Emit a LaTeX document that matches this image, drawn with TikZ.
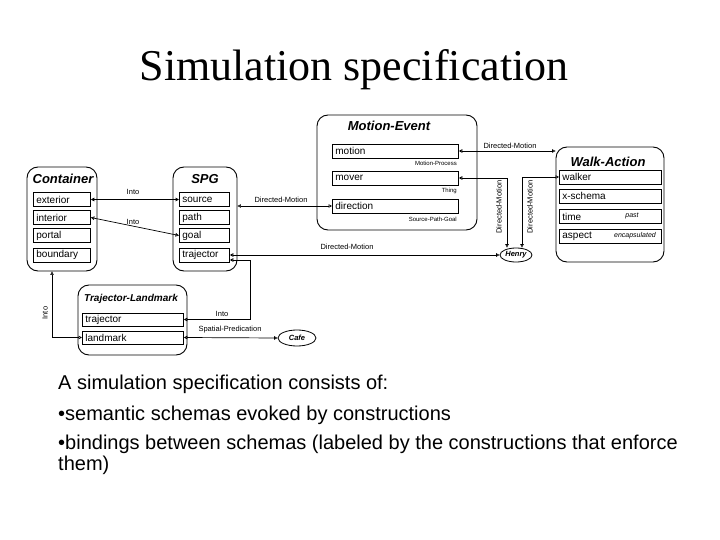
\documentclass[tikz,border=0pt]{standalone}
\usepackage{fontspec}
\setmainfont{Liberation Serif}
\setsansfont{Liberation Sans}
\usetikzlibrary{arrows.meta,shapes.geometric,calc}
\begin{document}
\begin{tikzpicture}[x=1pt,y=-1pt,
  >={Triangle[open,length=3.5pt,width=3.5pt]},
  frame/.style={draw, line width=0.9pt, rounded corners=11pt, inner sep=0pt},
  ftitle/.style={font=\sffamily\bfseries\itshape\fontsize{13}{13}\selectfont, inner sep=0pt},
  slot/.style={draw, line width=0.8pt, inner ysep=0pt, inner xsep=3pt, minimum height=14pt,
    font=\sffamily\fontsize{10}{10}\selectfont, anchor=west, align=left, text width=#1pt, fill=white},
  small/.style={font=\sffamily\fontsize{6}{6}\selectfont, inner sep=0pt},
  lab/.style={font=\sffamily\fontsize{7.5}{7.5}\selectfont, inner sep=0pt},
  conn/.style={<->, line width=0.7pt},
  filler/.style={draw, line width=0.8pt, ellipse, inner sep=0pt, font=\sffamily\bfseries\itshape\fontsize{7.5}{7.5}\selectfont},
  body/.style={font=\sffamily\fontsize{20}{20}\selectfont, anchor=base west, inner sep=0pt}
]
\useasboundingbox (0,0) rectangle (720,540);

% title
\node[font=\fontsize{44}{44}\selectfont, anchor=base, inner sep=0pt] (title) at (354,81) {Simulation specification};

% frames
\node[frame, minimum width=70pt, minimum height=104pt] (Container) at (62,219) {};
\node[frame, minimum width=64pt, minimum height=104pt] (SPG) at (205,219) {};
\node[frame, minimum width=160pt, minimum height=115pt] (ME) at (397,172.5) {};
\node[frame, minimum width=108pt, minimum height=115pt] (WA) at (610,204.5) {};
\node[frame, minimum width=109pt, minimum height=70pt] (TL) at (132.5,320) {};

\node[ftitle] (tC) at (63,179) {Container};
\node[ftitle] (tS) at (205,179) {SPG};
\node[ftitle] (tM) at (389,126) {Motion-Event};
\node[ftitle] (tW) at (608,162) {Walk-Action};
\node[ftitle, font=\sffamily\bfseries\itshape\fontsize{10}{10}\selectfont] (tT) at (131,299) {Trajector-Landmark};

% Container slots
\node[slot=51] (exterior) at (33,199.5) {exterior};
\node[slot=51] (interior) at (33,217.5) {interior};
\node[slot=51] (portal) at (33,235.5) {portal};
\node[slot=51] (boundary) at (33,255) {boundary};
% SPG slots
\node[slot=44] (source) at (179,199.5) {source};
\node[slot=44] (path) at (179,217.5) {path};
\node[slot=44] (goal) at (179,235.5) {goal};
\node[slot=44] (trajectory) at (179,255) {trajector};
% Motion-Event slots
\node[slot=120] (motion) at (332,151) {motion};
\node[slot=120] (mover) at (332,178) {mover};
\node[slot=120] (direction) at (332,206) {direction};
\node[small, anchor=east] (mp) at (457,163) {Motion-Process};
\node[small, anchor=east] (th) at (457,191) {Thing};
\node[small, anchor=east] (spg) at (457,219) {Source-Path-Goal};
% Walk-Action slots
\node[slot=96] (walker) at (559,177) {walker};
\node[slot=96] (xschema) at (559,196) {x-schema};
\node[slot=96] (time) at (559,216.5) {time};
\node[slot=96] (aspect) at (559,236) {aspect};
\node[small, font=\sffamily\itshape\fontsize{7}{7}\selectfont] (past) at (632,216) {past};
\node[small, font=\sffamily\itshape\fontsize{7}{7}\selectfont, anchor=east] (encap) at (656,236) {encapsulated};
% Trajector-Landmark slots
\node[slot=95, minimum height=13pt] (trajector) at (82,319.5) {trajector};
\node[slot=95, minimum height=13pt] (landmark) at (82,337.5) {landmark};

% fillers
\node[filler, minimum width=32pt, minimum height=14pt] (Henry) at (516,255) {Henry};
\node[filler, minimum width=38pt, minimum height=16pt] (Cafe) at (297,338) {Cafe};

% connectors
\draw[conn, line width=1.8pt] (exterior.east) -- (source.west);
\node[lab] (l1) at (133,192) {Into};
\draw[conn] (interior.east) -- (goal.west);
\node[lab] (l2) at (133,222) {Into};
\draw[conn] (direction.west -| SPG.east) -- (direction.west);
\node[lab] (l3) at (281,200) {Directed-Motion};
\draw[conn] (Henry.west -| trajectory.east) -- (Henry.west);
\node[lab] (l4) at (347,247) {Directed-Motion};
\draw[conn] ([yshift=-5pt]trajectory.east) -- ++(21,0) |- (trajector.east);
\node[lab] (l5) at (222,314) {Into};
\draw[conn] (landmark.east) -- (Cafe.west);
\node[lab] (l6) at (230,330) {Spatial-Predication};
\draw[conn] ([xshift=-10pt]Container.south) |- (landmark.west);
\node[lab, rotate=90] (l7) at (45,313) {Into};
\draw[conn] (motion.east) -- (motion.east -| WA.west);
\node[lab] (l8) at (510,146) {Directed-Motion};
\draw[conn] (mover.east) -| ([xshift=-9pt]Henry.north);
\node[lab, rotate=90] (l9) at (499,207) {Directed-Motion};
\draw[conn] (walker.west) -| ([xshift=6pt]Henry.north);
\node[lab, rotate=90] (l10) at (530,207) {Directed-Motion};

% body text
\node[body] (b1) at (58,389) {A simulation specification consists of:};
\node[body] (b2) at (58,420) {\textbullet semantic schemas evoked by constructions};
\node[body] (b3) at (58,449) {\textbullet bindings between schemas (labeled by the constructions that enforce};
\node[body] (b4) at (58,470) {them)};
\end{tikzpicture}
\end{document}
